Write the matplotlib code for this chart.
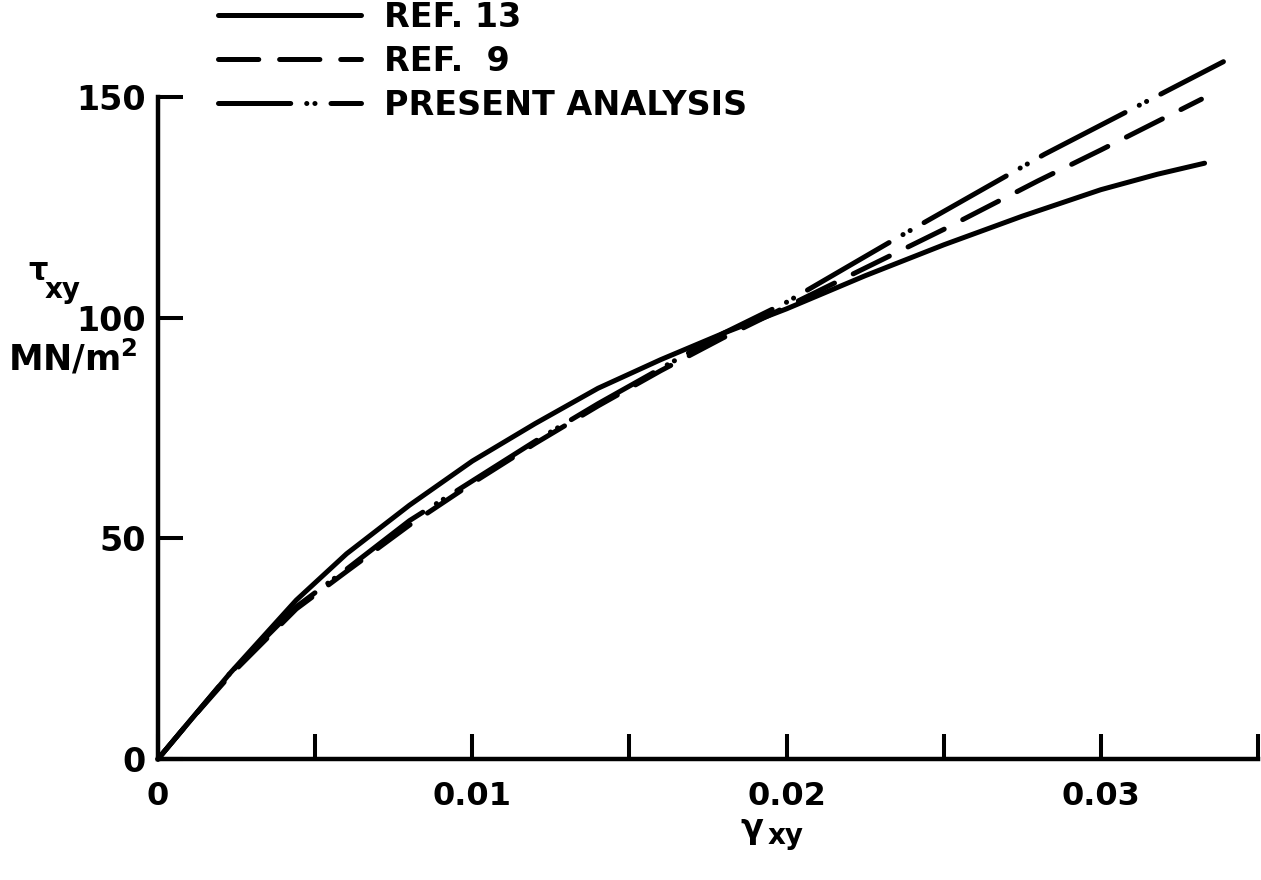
import matplotlib
matplotlib.use("Agg")
import matplotlib.pyplot as plt

# shear strain vs shear stress (MN/m^2)
ref13_x = [0, 0.001, 0.0023, 0.0044, 0.006, 0.008, 0.01, 0.012, 0.014, 0.016,
           0.018, 0.02, 0.0225, 0.025, 0.0275, 0.030, 0.0318, 0.0333]
ref13_y = [0, 8.5, 19.5, 36, 46.5, 57.5, 67.5, 76, 84, 90.5,
           96.5, 102, 109.5, 116.5, 123, 129, 132.5, 135]

ref9_x = [0, 0.001, 0.0023, 0.0044, 0.006, 0.008, 0.01, 0.012, 0.014, 0.016,
          0.018, 0.02, 0.023, 0.025, 0.028, 0.030, 0.0332]
ref9_y = [0, 8.5, 19, 34, 42.5, 53, 62.5, 71.5, 80, 88,
          95.5, 102.5, 113, 120, 131, 138, 149.5]

present_x = [0, 0.001, 0.0023, 0.0044, 0.006, 0.008, 0.01, 0.012, 0.014, 0.016,
             0.018, 0.02, 0.0235, 0.0282, 0.0339]
present_y = [0, 8.5, 19.5, 34.5, 43, 54, 63, 72, 80.5, 88.5,
             96.5, 103.5, 118, 137, 158]

labels = ["REF. 13", "REF.  9", "PRESENT ANALYSIS"]
x_ticks = [0, 0.005, 0.01, 0.015, 0.02, 0.025, 0.03, 0.035]
x_ticklabels = ["0", "", "0.01", "", "0.02", "", "0.03", ""]
y_ticks = [0, 50, 100, 150]

plt.rcParams["font.family"] = ["DejaVu Sans"]
plt.rcParams["font.weight"] = "bold"
plt.rcParams["lines.scale_dashes"] = False

fig = plt.figure(figsize=(12.61, 8.80), dpi=100)
ax = fig.add_axes([158 / 1261, 121 / 880, 1100 / 1261, 662 / 880])

lw = 3.6
dashdot = (68, 11.5, 0.1, 5.8, 0.1, 11.5)
common = dict(color="black", lw=lw, solid_capstyle="round", dash_capstyle="round",
              clip_on=False)
ax.plot(ref13_x, ref13_y, ls="-", label=labels[0], **common)
ax.plot(ref9_x, ref9_y, ls=(0, (29, 15)), label=labels[1], **common)
ax.plot(present_x, present_y, ls=(0, dashdot), label=labels[2], **common)

ax.set_xlim(0, 0.035)
ax.set_ylim(0, 150)
for s in ["top", "right"]:
    ax.spines[s].set_visible(False)
for s in ["left", "bottom"]:
    ax.spines[s].set_linewidth(3.2)

ax.set_xticks(x_ticks)
ax.set_xticklabels(x_ticklabels)
ax.set_yticks(y_ticks)
ax.tick_params(axis="x", direction="in", length=18, width=2.9, pad=16, labelsize=23)
ax.tick_params(axis="y", direction="in", length=18, width=2.9, pad=9, labelsize=24)

# axis labels
fig.text(28 / 1261, 1 - 272 / 880, "\u03c4", fontsize=22, ha="left", va="center")
fig.text(45 / 1261, 1 - 290 / 880, "xy", fontsize=20, ha="left", va="center")
fig.text(8 / 1261, 1 - 358 / 880, "MN/m$^\\mathbf{2}$", fontsize=25, ha="left", va="center")
fig.text(752 / 1261, 1 - 828 / 880, "\u03b3", fontsize=24, ha="center", va="center")
fig.text(768 / 1261, 1 - 836 / 880, "xy", fontsize=20, ha="left", va="center")

leg = ax.legend(loc="upper left", bbox_to_anchor=(218 / 1261, 0.9991),
                bbox_transform=fig.transFigure, frameon=False, fontsize=24,
                handlelength=4.3, handletextpad=0.68, labelspacing=0.33,
                borderpad=0, borderaxespad=0)
# shift the dash-dot pattern in the legend so it reads dash .. dash
leg.get_lines()[2].set_linestyle((16, dashdot))

fig.savefig("out.png", dpi=100)
